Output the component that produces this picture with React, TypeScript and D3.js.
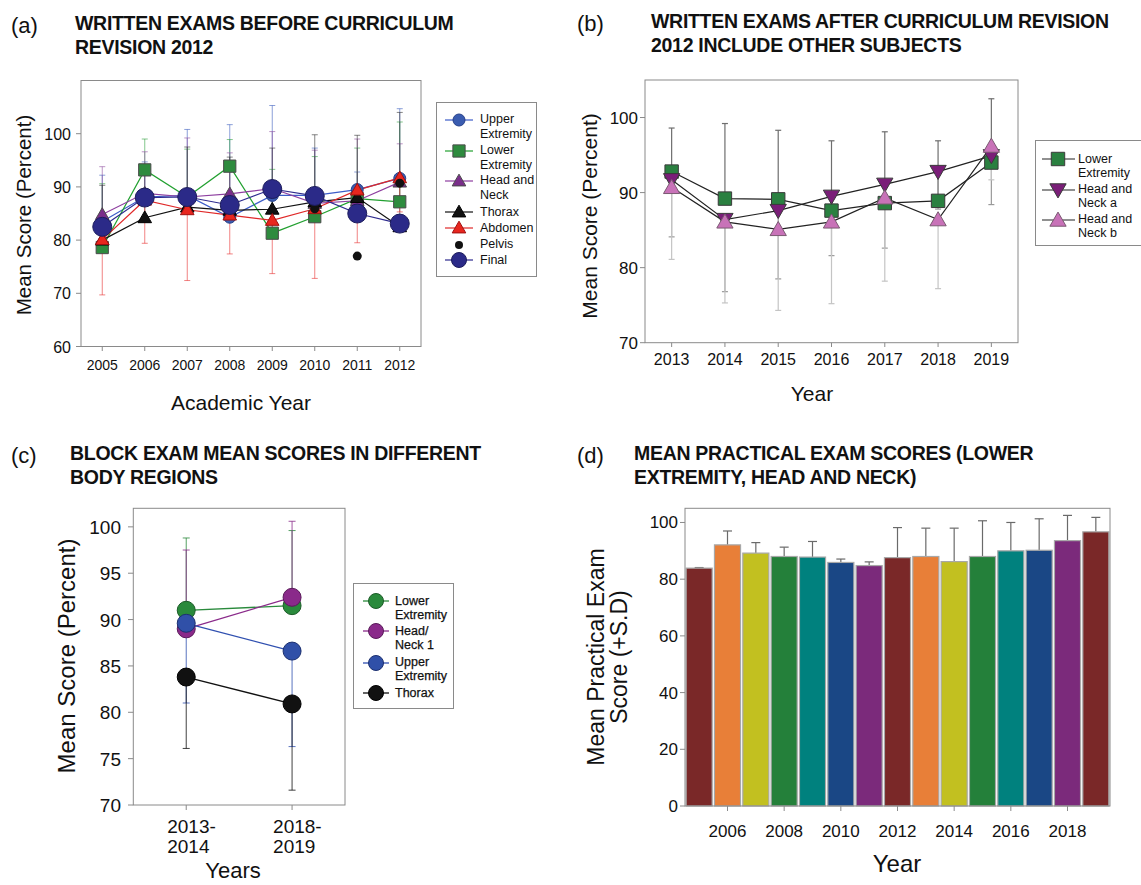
import * as d3 from "d3";

const FONT = "'Liberation Sans', Arial, Helvetica, sans-serif";

// ---------- (a) written exams before curriculum revision 2012
const yearsA = [2005, 2006, 2007, 2008, 2009, 2010, 2011, 2012];
const upperA = [83.5, 88.1, 88.4, 84.3, 88.4, 88.4, 89.5, 91.6];
const upperErrA = [8.7, 6.6, 12.4, 17.4, 16.9, 8.9, 3.3, 13.1];
const lowerA = [78.6, 93.2, 88.1, 93.9, 81.3, 84.4, 87.8, 87.2];
const lowerErrA = [12, 5.8, 9, 5, 12, 11.3, 9.5, 15];
const headNeckA = [84.8, 88.8, 88.1, 88.7, 89.7, 86.9, 87.4, 90.9];
const headNeckErrA = [9, 7.8, 11.1, 7.7, 10.7, 10, 11.6, 7.2];
const thoraxA = [80.0, 84.2, 86.2, 85.6, 85.8, 87.2, 88.0, 82.5];
const thoraxErrA = [10.3, 9.8, 11.3, 10, 11.5, 12.6, 11.7, 21.5];
const abdomenA = [80.1, 87.5, 85.7, 84.7, 83.7, 85.9, 89.4, 91.7];
const abdomenErrA = [10.4, 8.1, 13.3, 7.3, 10, 13.1, 9.9, 6.4];
const pelvisYearsA = [2010, 2011, 2012];
const pelvisA = [85.9, 77.0, 90.7];
const finalA = [82.5, 88.0, 88.1, 86.6, 89.6, 88.3, 85.0, 83.1];
const yTicksA = [60, 70, 80, 90, 100];

// ---------- (b) written exams after curriculum revision
const yearsB = [2013, 2014, 2015, 2016, 2017, 2018, 2019];
const lowerB = [92.8, 89.2, 89.1, 87.6, 88.6, 88.9, 94.0];
const lowerErrB = [5.8, 10, 9.2, 9.3, 9.5, 8, 8.5];
const headNeckAB = [91.7, 86.4, 87.6, 89.5, 91.1, 92.8, 94.9];
const headNeckAErrB = [7.6, 9.6, 9.1, 7.9, 8.5, 5, 6.5];
const headNeckBB = [90.7, 86.1, 85.1, 86.1, 89.3, 86.4, 96.2];
const headNeckBErrB = [9.6, 10.8, 10.8, 10.9, 11.1, 9.2, 4.5];
const yTicksB = [70, 80, 90, 100];

// ---------- (c) block exam mean scores
const periodsC = [["2013-", "2014"], ["2018-", "2019"]];
const lowerC = [91.0, 91.5];
const lowerErrC = [7.8, 8.1];
const headNeckC = [89.0, 92.4];
const headNeckErrC = [8.5, 8.2];
const upperC = [89.6, 86.6];
const upperErrC = [8.6, 10.3];
const thoraxC = [83.8, 80.9];
const thoraxErrC = [7.7, 9.3];
const yTicksC = [70, 75, 80, 85, 90, 95, 100];

// ---------- (d) mean practical exam scores
const yearsD = [2005, 2006, 2007, 2008, 2009, 2010, 2011, 2012, 2013, 2014, 2015, 2016, 2017, 2018, 2019];
const practicalD = [83.9, 92.1, 89.2, 88.0, 87.8, 85.9, 84.8, 87.6, 88.0, 86.2, 88.0, 90.0, 90.2, 93.6, 96.7];
const practicalSdD = [0.2, 4.9, 3.7, 3.3, 5.5, 1.2, 1.3, 10.6, 10.0, 11.8, 12.6, 10.0, 11.1, 8.9, 5.1];
const xTicksD = [2006, 2008, 2010, 2012, 2014, 2016, 2018];
const yTicksD = [0, 20, 40, 60, 80, 100];
const barColors = ["#7a2828", "#e87f38", "#c2c020", "#24803a", "#00817e", "#1a4785", "#7b2a7b"];

const FRAME = "#8a8a8a";

const sym = (type: d3.SymbolType, size: number) => d3.symbol().type(type).size(size)() as string;

function ErrBar({ x, y0, y1, cap, color, opacity = 1, width = 1 }: any) {
  return (
    <g stroke={color} strokeOpacity={opacity} strokeWidth={width}>
      <line x1={x} x2={x} y1={y0} y2={y1} />
      <line x1={x - cap} x2={x + cap} y1={y1} y2={y1} />
    </g>
  );
}

function Title({ x, y, label, lines }: any) {
  return (
    <g fontFamily={FONT} fill="#111">
      <text x={label.x} y={y + 3} fontSize={22}>{label.text}</text>
      {lines.map((t: string, i: number) => (
        <text key={i} x={x} y={y + i * 24} fontSize={19.5} fontWeight="bold" letterSpacing={-0.3}>{t}</text>
      ))}
    </g>
  );
}

function PanelA() {
  const x = d3.scaleLinear().domain([2004.5, 2012.5]).range([81, 421]);
  const y = d3.scaleLinear().domain([60, 110]).range([346.5, 80.5]);
  const line = d3.line<number>().x((_, i) => x(yearsA[i])).y((d) => y(d));
  const series = [
    { v: upperA, e: upperErrA, dir: 1, line: "#3c5cc8", err: "#4060c0", fill: "#3a5cb0", stroke: "#26408a", shape: "circle" },
    { v: lowerA, e: lowerErrA, dir: 1, line: "#22a030", err: "#30a040", fill: "#2e8b3e", stroke: "#4a4a4a", shape: "square" },
    { v: headNeckA, e: headNeckErrA, dir: 1, line: "#8e3fa0", err: "#9050a0", fill: "#7a2e8a", stroke: "#4a4a4a", shape: "tri" },
    { v: thoraxA, e: thoraxErrA, dir: 1, line: "#111", err: "#333", fill: "#111", stroke: "#000", shape: "tri" },
    { v: abdomenA, e: abdomenErrA, dir: -1, line: "#e02828", err: "#e83030", fill: "#e8261e", stroke: "#a01010", shape: "tri" },
  ];
  const marker = (s: any, cx: number, cy: number, k: number) => {
    if (s.shape === "circle") return <circle key={k} cx={cx} cy={cy} r={6} fill={s.fill} stroke={s.stroke} />;
    if (s.shape === "square") return <path key={k} transform={`translate(${cx},${cy})`} d={sym(d3.symbolSquare, 150)} fill={s.fill} stroke={s.stroke} />;
    return <path key={k} transform={`translate(${cx},${cy + 1})`} d={sym(d3.symbolTriangle, 80)} fill={s.fill} stroke={s.stroke} />;
  };
  const legend = [
    { s: series[0], t: ["Upper", "Extremity"], my: 120, ty: 123 },
    { s: series[1], t: ["Lower", "Extremity"], my: 151, ty: 154 },
    { s: series[2], t: ["Head and", "Neck"], my: 181, ty: 184 },
    { s: series[3], t: ["Thorax"], my: 212, ty: 216 },
    { s: series[4], t: ["Abdomen"], my: 228, ty: 232 },
    { s: { shape: "dot" }, t: ["Pelvis"], my: 245, ty: 248 },
    { s: { shape: "final", line: "#2d2a8e" }, t: ["Final"], my: 260, ty: 264 },
  ];
  return (
    <g fontFamily={FONT}>
      <Title x={75} y={30} label={{ x: 11, text: "(a)" }} lines={["WRITTEN EXAMS BEFORE CURRICULUM", "REVISION 2012"]} />
      <rect x={81} y={80.5} width={340} height={266} fill="none" stroke={FRAME} />
      {yTicksA.map((t) => (
        <g key={t}>
          <line x1={76} x2={81} y1={y(t)} y2={y(t)} stroke={FRAME} />
          <text x={71} y={y(t) + 6} textAnchor="end" fontSize={16} fill="#111">{t}</text>
        </g>
      ))}
      {yearsA.map((t) => (
        <g key={t}>
          <line x1={x(t)} x2={x(t)} y1={346.5} y2={351} stroke={FRAME} />
          <text x={x(t)} y={370} textAnchor="middle" fontSize={14} fill="#111">{t}</text>
        </g>
      ))}
      <text x={241} y={410} textAnchor="middle" fontSize={21} fill="#111">Academic Year</text>
      <text transform="translate(31,215) rotate(-90)" textAnchor="middle" fontSize={20.5} fill="#111">Mean Score (Percent)</text>
      {series.map((s, si) =>
        s.v.map((d, i) => (
          <ErrBar key={`${si}-${i}`} x={x(yearsA[i])} y0={y(d)} y1={y(d + s.dir * s.e[i])} cap={3} color={s.err} opacity={0.6} />
        ))
      )}
      {series.map((s, si) => (
        <path key={si} d={line(s.v) as string} fill="none" stroke={s.line} strokeWidth={1.2} />
      ))}
      <path d={line(finalA) as string} fill="none" stroke="#2d2a8e" strokeWidth={1.2} />
      {series.map((s) => s.v.map((d, i) => marker(s, x(yearsA[i]), y(d), i)))}
      {pelvisA.map((d, i) => (
        <circle key={i} cx={x(pelvisYearsA[i])} cy={y(d)} r={4.5} fill="#111" />
      ))}
      {finalA.map((d, i) => (
        <circle key={i} cx={x(yearsA[i])} cy={y(d)} r={9.5} fill="#2b2a88" stroke="#1c1c5c" />
      ))}
      <rect x={436.5} y={102.5} width={100} height={174} fill="white" stroke={FRAME} />
      {legend.map((l, i) => (
        <g key={i}>
          {l.s.shape !== "dot" && <line x1={445} x2={473} y1={l.my} y2={l.my} stroke={l.s.line} strokeWidth={1.2} />}
          {l.s.shape === "dot" && <circle cx={459} cy={l.my} r={4} fill="#111" />}
          {l.s.shape === "final" && <circle cx={459} cy={l.my} r={7.5} fill="#2b2a88" stroke="#1c1c5c" />}
          {l.s.shape !== "dot" && l.s.shape !== "final" && marker(l.s, 459, l.my, 0)}
          {l.t.map((t, j) => (
            <text key={j} x={480} y={l.ty + j * 15} fontSize={12.5} fill="#111">{t}</text>
          ))}
        </g>
      ))}
    </g>
  );
}

function PanelB() {
  const x = d3.scaleLinear().domain([2012.5, 2019.5]).range([645, 1018]);
  const y = d3.scaleLinear().domain([70, 105]).range([342.7, 80]);
  const line = d3.line<number>().x((_, i) => x(yearsB[i])).y((d) => y(d));
  const series = [
    { v: lowerB, e: lowerErrB, dir: 1, err: "#6e6e6e", fill: "#2a8040", stroke: "#3a3a3a", shape: "square" },
    { v: headNeckAB, e: headNeckAErrB, dir: -1, err: "#9a9a9a", fill: "#7a1e78", stroke: "#3a3a3a", shape: "down" },
    { v: headNeckBB, e: headNeckBErrB, dir: -1, err: "#c4c4c4", fill: "#c872b8", stroke: "#7a5a72", shape: "up" },
  ];
  const marker = (s: any, cx: number, cy: number, k: number) => {
    if (s.shape === "square") return <path key={k} transform={`translate(${cx},${cy})`} d={sym(d3.symbolSquare, 180)} fill={s.fill} stroke={s.stroke} />;
    if (s.shape === "down") return <path key={k} transform={`translate(${cx},${cy - 1.5}) rotate(180)`} d={sym(d3.symbolTriangle, 115)} fill={s.fill} stroke={s.stroke} />;
    return <path key={k} transform={`translate(${cx},${cy + 1.5})`} d={sym(d3.symbolTriangle, 115)} fill={s.fill} stroke={s.stroke} />;
  };
  const legend = [
    { s: series[0], t: ["Lower", "Extremity"], my: 159, ty: 163 },
    { s: series[1], t: ["Head and", "Neck a"], my: 190, ty: 193 },
    { s: series[2], t: ["Head and", "Neck b"], my: 220, ty: 223 },
  ];
  return (
    <g fontFamily={FONT}>
      <Title x={651} y={28} label={{ x: 577, text: "(b)" }} lines={["WRITTEN EXAMS AFTER CURRICULUM REVISION", "2012 INCLUDE OTHER SUBJECTS"]} />
      <rect x={645} y={80} width={373} height={262.7} fill="none" stroke={FRAME} />
      {yTicksB.map((t) => (
        <g key={t}>
          <line x1={640} x2={645} y1={y(t)} y2={y(t)} stroke={FRAME} />
          <text x={638} y={y(t) + 6} textAnchor="end" fontSize={17} fill="#111">{t}</text>
        </g>
      ))}
      {yearsB.map((t) => (
        <g key={t}>
          <line x1={x(t)} x2={x(t)} y1={342.7} y2={347} stroke={FRAME} />
          <text x={x(t)} y={365} textAnchor="middle" fontSize={16} fill="#111">{t}</text>
        </g>
      ))}
      <text x={812} y={401} textAnchor="middle" fontSize={21} fill="#111">Year</text>
      <text transform="translate(597,216) rotate(-90)" textAnchor="middle" fontSize={21} fill="#111">Mean Score (Percent)</text>
      {series.map((s, si) =>
        s.v.map((d, i) => (
          <ErrBar key={`${si}-${i}`} x={x(yearsB[i])} y0={y(d)} y1={y(d + s.dir * s.e[i])} cap={3} color={s.err} width={1.2} />
        ))
      )}
      {series.map((s, si) => (
        <path key={si} d={line(s.v) as string} fill="none" stroke="#222" strokeWidth={1.2} />
      ))}
      {series.map((s) => s.v.map((d, i) => marker(s, x(yearsB[i]), y(d), i)))}
      <rect x={1035.5} y={140.5} width={120} height={105} fill="white" stroke={FRAME} />
      {legend.map((l, i) => (
        <g key={i}>
          <line x1={1042} x2={1075} y1={l.my} y2={l.my} stroke="#222" strokeWidth={1.2} />
          {marker(l.s, 1058, l.my, 0)}
          {l.t.map((t, j) => (
            <text key={j} x={1078} y={l.ty + j * 13.5} fontSize={12.5} fill="#111">{t}</text>
          ))}
        </g>
      ))}
    </g>
  );
}

function PanelC() {
  const x = d3.scaleLinear().domain([-0.5, 1.5]).range([133.3, 345]);
  const y = d3.scaleLinear().domain([70, 102]).range([805, 508.3]);
  const line = d3.line<number>().x((_, i) => x(i)).y((d) => y(d));
  const series = [
    { v: lowerC, e: lowerErrC, dir: 1, color: "#2a8a3c", fill: "#2a8a3c", stroke: "#1c5c28", t: [" Lower", "Extremity"], my: 601, ty: 605 },
    { v: headNeckC, e: headNeckErrC, dir: 1, color: "#8a2a8a", fill: "#8a2a8a", stroke: "#5a1a5a", t: ["Head/", "Neck 1"], my: 631, ty: 635 },
    { v: upperC, e: upperErrC, dir: -1, color: "#3050b0", fill: "#3050a8", stroke: "#1c3070", t: ["Upper", "Extremity"], my: 663, ty: 666 },
    { v: thoraxC, e: thoraxErrC, dir: -1, color: "#111", fill: "#111", stroke: "#000", t: ["Thorax"], my: 693, ty: 697 },
  ];
  return (
    <g fontFamily={FONT}>
      <Title x={70} y={460} label={{ x: 11, text: "(c)" }} lines={["BLOCK  EXAM MEAN SCORES IN DIFFERENT", "BODY REGIONS"]} />
      <rect x={133.3} y={508.3} width={211.7} height={296.7} fill="none" stroke={FRAME} />
      {yTicksC.map((t) => (
        <g key={t}>
          <line x1={128} x2={133.3} y1={y(t)} y2={y(t)} stroke={FRAME} />
          <text x={121} y={y(t) + 7} textAnchor="end" fontSize={19} fill="#111">{t}</text>
        </g>
      ))}
      {periodsC.map((p, i) => (
        <g key={i}>
          <line x1={x(i)} x2={x(i)} y1={805} y2={810} stroke={FRAME} />
          {p.map((t, j) => (
            <text key={j} x={x(i) - 19} y={833 + j * 20} fontSize={19} fill="#111">{t}</text>
          ))}
        </g>
      ))}
      <text x={233} y={878} textAnchor="middle" fontSize={22} fill="#111">Years</text>
      <text transform="translate(75,656) rotate(-90)" textAnchor="middle" fontSize={24} fill="#111">Mean Score (Percent)</text>
      {series.map((s, si) =>
        s.v.map((d, i) => (
          <ErrBar key={`${si}-${i}`} x={x(i)} y0={y(d)} y1={y(d + s.dir * s.e[i])} cap={3.5} color={s.color} opacity={0.8} />
        ))
      )}
      {series.map((s, si) => (
        <path key={si} d={line(s.v) as string} fill="none" stroke={s.color} strokeWidth={1.3} />
      ))}
      {series.map((s) => s.v.map((d, i) => <circle key={i} cx={x(i)} cy={y(d)} r={9} fill={s.fill} stroke={s.stroke} />))}
      <rect x={353.5} y={583.5} width={100} height={125} fill="white" stroke={FRAME} />
      {series.map((s, i) => (
        <g key={i}>
          <line x1={363} x2={389} y1={s.my} y2={s.my} stroke={s.color} strokeWidth={1.3} />
          <circle cx={376} cy={s.my} r={7.5} fill={s.fill} stroke={s.stroke} />
          {s.t.map((t, j) => (
            <text key={j} x={395} y={s.ty + j * 14} fontSize={12.5} fill="#111" stroke="#111" strokeWidth={0.25}>{t}</text>
          ))}
        </g>
      ))}
    </g>
  );
}

function PanelD() {
  const x = d3.scaleBand<number>().domain(yearsD).range([685, 1110]).paddingInner(0.08).paddingOuter(0.04);
  const y = d3.scaleLinear().domain([0, 105]).range([806, 508.3]);
  const color = d3.scaleOrdinal<number, string>().domain(d3.range(7)).range(barColors);
  const bw = x.bandwidth();
  return (
    <g fontFamily={FONT}>
      <Title x={634} y={460} label={{ x: 577, text: "(d)" }} lines={["MEAN PRACTICAL EXAM SCORES (LOWER", "EXTREMITY, HEAD AND NECK)"]} />
      {practicalD.map((d, i) => (
        <ErrBar key={i} x={(x(yearsD[i]) as number) + bw / 2} y0={y(d)} y1={y(d + practicalSdD[i])} cap={4.5} color="#6a6a6a" width={1.2} />
      ))}
      {practicalD.map((d, i) => (
        <rect key={i} x={x(yearsD[i])} y={y(d)} width={bw} height={806 - y(d)} fill={color(i % 7)} stroke="#a8a8a8" strokeWidth={1.2} />
      ))}
      <rect x={685} y={508.3} width={425} height={297.7} fill="none" stroke={FRAME} />
      {yTicksD.map((t) => (
        <g key={t}>
          <line x1={680} x2={685} y1={y(t)} y2={y(t)} stroke={FRAME} />
          <text x={678} y={y(t) + 6} textAnchor="end" fontSize={17} fill="#111">{t}</text>
        </g>
      ))}
      {xTicksD.map((t) => (
        <g key={t}>
          <line x1={(x(t) as number) + bw / 2} x2={(x(t) as number) + bw / 2} y1={806} y2={811} stroke={FRAME} />
          <text x={(x(t) as number) + bw / 2} y={837} textAnchor="middle" fontSize={17} fill="#111">{t}</text>
        </g>
      ))}
      <text x={897} y={872} textAnchor="middle" fontSize={24} fill="#111">Year</text>
      <text transform="translate(604,657) rotate(-90)" textAnchor="middle" fontSize={23} fill="#111">Mean Practical Exam</text>
      <text transform="translate(627,657) rotate(-90)" textAnchor="middle" fontSize={23} fill="#111">Score (+S.D)</text>
    </g>
  );
}

export default function App() {
  return (
    <svg width={1141} height={885} style={{ position: "absolute", left: 0, top: 0, display: "block", background: "white" }}>
      <PanelA />
      <PanelB />
      <PanelC />
      <PanelD />
    </svg>
  );
}
